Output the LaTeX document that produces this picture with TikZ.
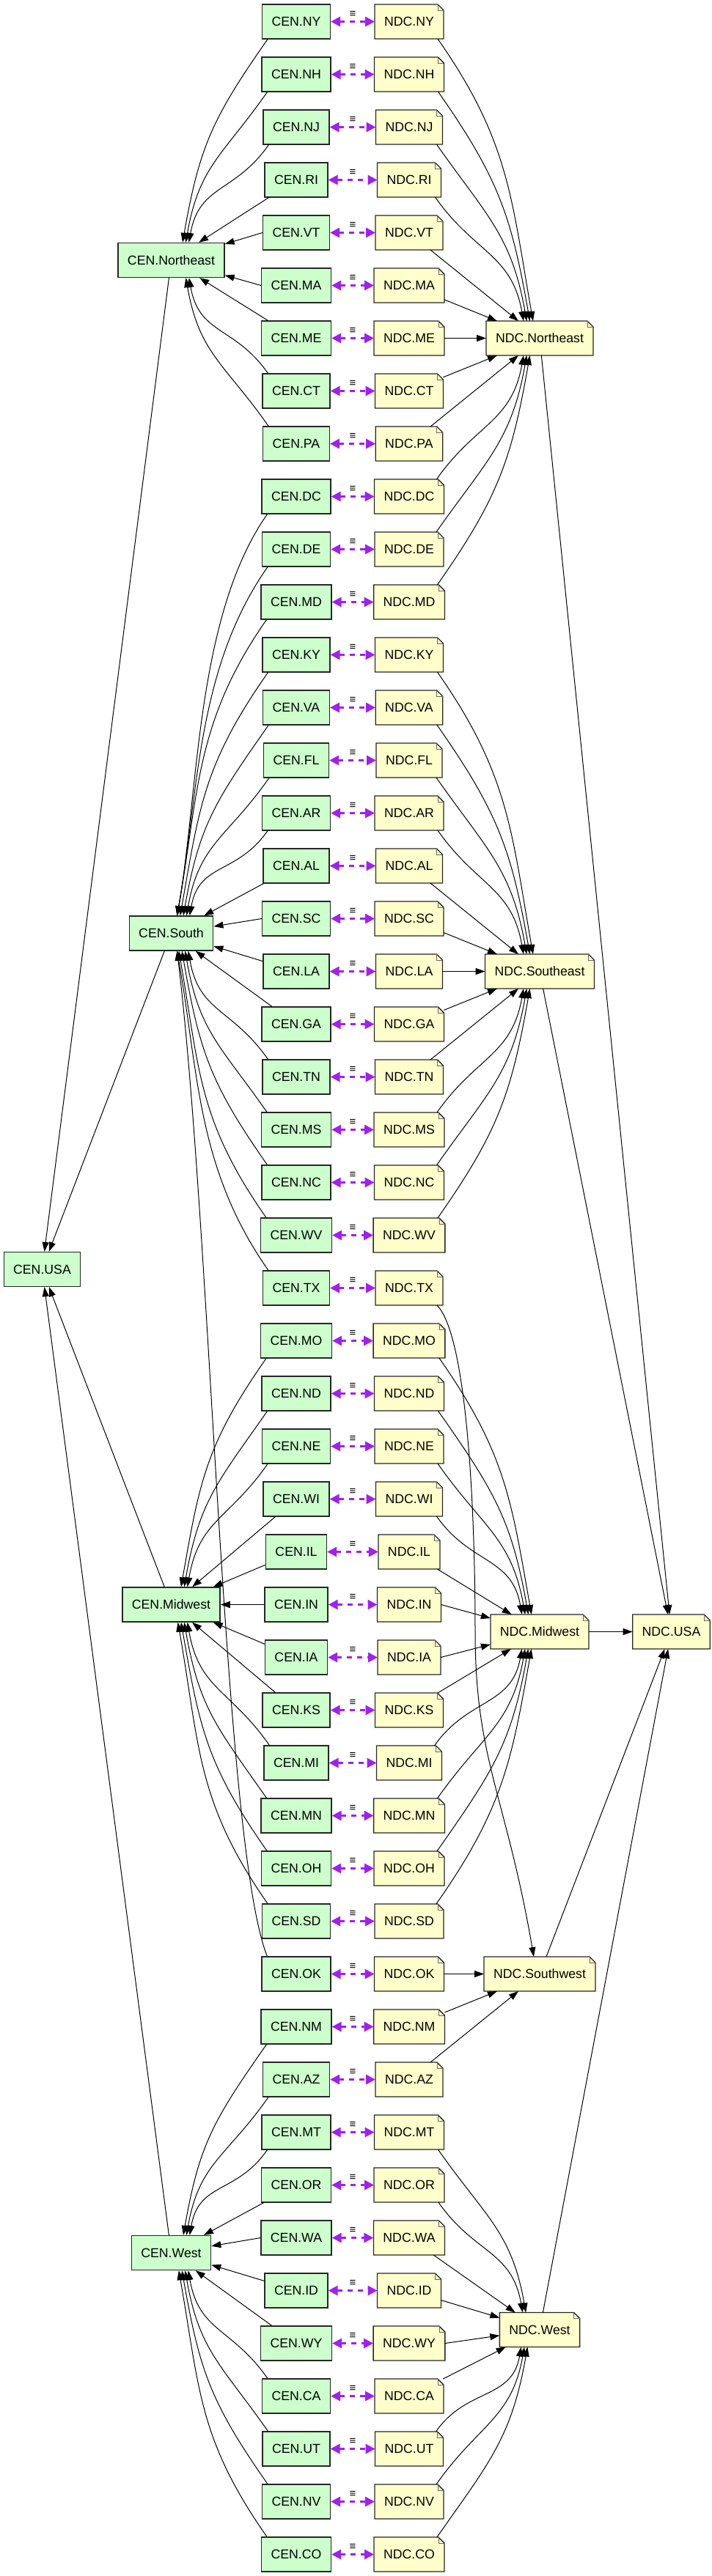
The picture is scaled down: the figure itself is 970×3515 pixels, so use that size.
\documentclass[tikz,border=0pt]{standalone}
\usepackage{fontspec}
\setmainfont{Liberation Sans}
\usetikzlibrary{arrows.meta}

\definecolor{cenfill}{HTML}{CCFFCC}
\definecolor{ndcfill}{HTML}{FFFFCC}
\definecolor{eqvline}{HTML}{A020F0}

\tikzset{
    >={Triangle[length=13pt,width=9pt]},
    box/.style={rectangle, line width=1.3pt, font=\fontsize{17.7}{20}\selectfont,
        inner xsep=13pt, inner ysep=0pt, minimum height=47pt},
    cen/.style={box, draw=black!85, fill=cenfill},
    ndc/.style={box, draw=none, fill=ndcfill, outer sep=0pt},
    eqv/.style={<->, >={Triangle[length=13pt,width=13pt]}, color=eqvline,
        dash pattern=on 7pt off 7pt, line width=3pt},
    eqlabel/.style={midway, yshift=10pt, inner sep=0pt, text=black,
        font=\fontsize{15}{15}\selectfont},
    link/.style={->, line width=1pt},
}

\newcommand{\notefold}[1]{%
    \fill[white] ([xshift=-8pt]#1.north east) -- (#1.north east) -- ([yshift=-8pt]#1.north east) -- cycle;
    \draw[line width=1.3pt, draw=black!85] (#1.north west) -- ([xshift=-8pt]#1.north east)
        -- ([yshift=-8pt]#1.north east) -- (#1.south east) -- (#1.south west) -- cycle;
    \draw[line width=0.6pt, draw=black!60] ([xshift=-8pt]#1.north east) |- ([yshift=-8pt]#1.north east);}

\newcommand{\cenlink}[2]{%
    \path (cen-#1); \pgfgetlastxy{\sx}{\sy}
    \path (cen-#2); \pgfgetlastxy{\rx}{\ry}
    \pgfmathsetmacro\dd{\ry-(\sy)}
    \pgfmathsetmacro\ad{abs(\dd)}
    \pgfmathsetmacro\off{max(8,min(30,35-0.06*\ad))}
    \pgfmathsetmacro\len{min(170,0.36*\ad+15)}
    \ifdim\ad pt<50pt
        \draw[link] (cen-#1.west) -- (cen-#2);
    \else\ifdim\ad pt<150pt
        \draw[link] (cen-#1) -- (cen-#2);
    \else\ifdim\dd pt>0pt
        \draw[link] ([xshift=8pt]cen-#1.north west) .. controls +(125:\len pt) and +(-80:\len pt) .. ([xshift=\off pt]cen-#2.south);
    \else
        \draw[link] ([xshift=8pt]cen-#1.south west) .. controls +(235:\len pt) and +(80:\len pt) .. ([xshift=\off pt]cen-#2.north);
    \fi\fi\fi}

\newcommand{\ndclink}[2]{%
    \path (ndc-#1); \pgfgetlastxy{\sx}{\sy}
    \path (ndc-#2); \pgfgetlastxy{\rx}{\ry}
    \pgfmathsetmacro\dd{\ry-(\sy)}
    \pgfmathsetmacro\ad{abs(\dd)}
    \pgfmathsetmacro\off{max(8,min(30,35-0.06*\ad))}
    \pgfmathsetmacro\len{min(170,0.36*\ad+15)}
    \ifdim\ad pt<50pt
        \draw[link] (ndc-#1.east) -- (ndc-#2);
    \else\ifdim\ad pt<150pt
        \draw[link] (ndc-#1) -- (ndc-#2);
    \else\ifdim\dd pt>0pt
        \draw[link] ([xshift=-10pt]ndc-#1.north east) .. controls +(55:\len pt) and +(-100:\len pt) .. ([xshift=-\off pt]ndc-#2.south);
    \else
        \draw[link] ([xshift=-8pt]ndc-#1.south east) .. controls +(-55:\len pt) and +(100:\len pt) .. ([xshift=-\off pt]ndc-#2.north);
    \fi\fi\fi}

\begin{document}
\begin{tikzpicture}[x=1pt, y=1pt]
    \useasboundingbox (0,0) rectangle (970,-3515);

    \node[cen] (cen-Northeast) at (233.5,-355) {CEN.Northeast};
    \node[cen] (cen-South) at (233.5,-1273.5) {CEN.South};
    \node[cen] (cen-Midwest) at (233.5,-2189.5) {CEN.Midwest};
    \node[cen] (cen-West) at (233.5,-3074) {CEN.West};
    \node[cen] (cen-USA) at (57.5,-1732) {CEN.USA};

    \node[ndc] (ndc-Northeast) at (736,-461.5) {NDC.Northeast};
    \node[ndc] (ndc-Southeast) at (736,-1325.5) {NDC.Southeast};
    \node[ndc] (ndc-Midwest) at (736,-2226.5) {NDC.Midwest};
    \node[ndc] (ndc-Southwest) at (736,-2693.5) {NDC.Southwest};
    \node[ndc] (ndc-West) at (736,-3179) {NDC.West};
    \node[ndc] (ndc-USA) at (915.5,-2226.5) {NDC.USA};
    \foreach \r in {Northeast,Southeast,Midwest,Southwest,West,USA}
        \notefold{ndc-\r};

    \foreach \i/\s in {0/NY,1/NH,2/NJ,3/RI,4/VT,5/MA,6/ME,7/CT,8/PA,9/DC,10/DE,11/MD,
            12/KY,13/VA,14/FL,15/AR,16/AL,17/SC,18/LA,19/GA,20/TN,21/MS,22/NC,23/WV,24/TX,
            25/MO,26/ND,27/NE,28/WI,29/IL,30/IN,31/IA,32/KS,33/MI,34/MN,35/OH,36/SD,
            37/OK,38/NM,39/AZ,40/MT,41/OR,42/WA,43/ID,44/WY,45/CA,46/UT,47/NV,48/CO}{
        \node[cen] (cen-\s) at (404,-29.5-72*\i) {CEN.\s};
        \node[ndc] (ndc-\s) at (558,-29.5-72*\i) {NDC.\s};
        \notefold{ndc-\s}
        \draw[eqv] (cen-\s) -- node[eqlabel] {≡} (ndc-\s);
    }

    \foreach \s/\r in {NY/Northeast,NH/Northeast,NJ/Northeast,RI/Northeast,VT/Northeast,
            MA/Northeast,ME/Northeast,CT/Northeast,PA/Northeast,
            DC/South,DE/South,MD/South,KY/South,VA/South,FL/South,AR/South,AL/South,
            SC/South,LA/South,GA/South,TN/South,MS/South,NC/South,WV/South,TX/South,
            MO/Midwest,ND/Midwest,NE/Midwest,WI/Midwest,IL/Midwest,IN/Midwest,
            IA/Midwest,KS/Midwest,MI/Midwest,MN/Midwest,OH/Midwest,SD/Midwest,
            NM/West,AZ/West,MT/West,OR/West,WA/West,ID/West,WY/West,CA/West,
            UT/West,NV/West,CO/West}
        {\cenlink{\s}{\r}}
    \draw[link] ([xshift=8pt]cen-OK.north west) .. controls +(-60,150) and +(48,-403) .. ([xshift=8pt]cen-South.south);

    \foreach \s/\r in {NY/Northeast,NH/Northeast,NJ/Northeast,RI/Northeast,VT/Northeast,
            MA/Northeast,ME/Northeast,CT/Northeast,PA/Northeast,DC/Northeast,
            DE/Northeast,MD/Northeast,
            KY/Southeast,VA/Southeast,FL/Southeast,AR/Southeast,AL/Southeast,
            SC/Southeast,LA/Southeast,GA/Southeast,TN/Southeast,MS/Southeast,
            NC/Southeast,WV/Southeast,
            MO/Midwest,ND/Midwest,NE/Midwest,WI/Midwest,IL/Midwest,IN/Midwest,
            IA/Midwest,KS/Midwest,MI/Midwest,MN/Midwest,OH/Midwest,SD/Midwest,
            OK/Southwest,NM/Southwest,AZ/Southwest,
            MT/West,OR/West,WA/West,ID/West,WY/West,CA/West,UT/West,NV/West,CO/West}
        {\ndclink{\s}{\r}}
    \draw[link] ([xshift=-8pt]ndc-TX.south east) .. controls +(40,-40) and +(0,176) .. (648,-2226)
        .. controls +(0,-176) and +(-38,220) .. ([xshift=-8pt]ndc-Southwest.north);

    \draw[link] (cen-Northeast) -- (cen-USA);
    \draw[link] (cen-South) -- (cen-USA);
    \draw[link] (cen-Midwest) -- (cen-USA);
    \draw[link] (cen-West) -- (cen-USA);

    \draw[link] (ndc-Northeast) -- (ndc-USA);
    \draw[link] (ndc-Southeast) -- (ndc-USA);
    \draw[link] (ndc-Midwest) -- (ndc-USA);
    \draw[link] (ndc-Southwest) -- (ndc-USA);
    \draw[link] (ndc-West) -- (ndc-USA);
\end{tikzpicture}
\end{document}
